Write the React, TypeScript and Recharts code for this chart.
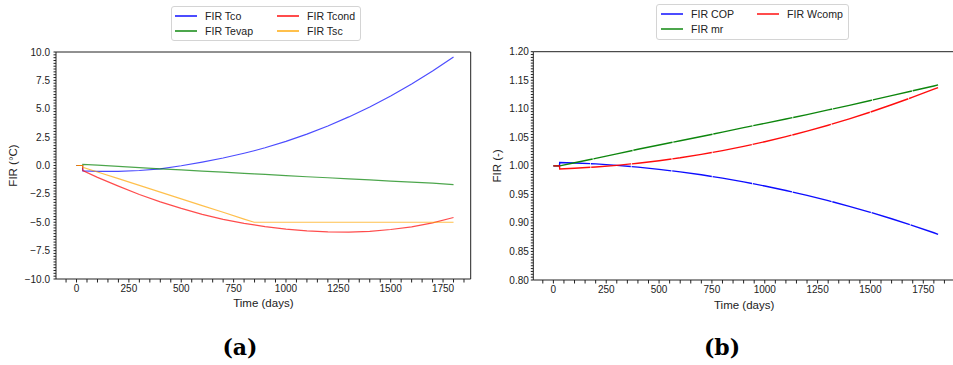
import React from 'react'
import { LineChart, Line, XAxis, YAxis, ReferenceArea } from 'recharts'

// (a) temperatures, days
const timeA = [0, 29, 30, 100, 200, 300, 400, 500, 600, 700, 800, 848, 900, 1000, 1100, 1200, 1300, 1400, 1500, 1600, 1700, 1800]
const firTco = [0, 0, -0.47, -0.51, -0.51, -0.44, -0.29, -0.02, 0.3, 0.66, 1.08, 1.3, 1.56, 2.12, 2.76, 3.48, 4.28, 5.16, 6.12, 7.18, 8.32, 9.55]
const firTevap = [0, 0, 0.1, 0.03, -0.07, -0.18, -0.29, -0.39, -0.49, -0.59, -0.69, -0.74, -0.79, -0.89, -0.99, -1.08, -1.18, -1.27, -1.37, -1.46, -1.56, -1.68]
const firTcond = [0, 0, -0.45, -1.05, -1.82, -2.55, -3.2, -3.78, -4.3, -4.75, -5.1, -5.23, -5.38, -5.6, -5.76, -5.85, -5.87, -5.8, -5.64, -5.4, -5.05, -4.58]
const firTsc = [0, 0, -0.15, -0.57, -1.16, -1.75, -2.34, -2.94, -3.53, -4.12, -4.72, -5, -5, -5, -5, -5, -5, -5, -5, -5, -5, -5]

// (b) ratios
const timeB = [0, 29, 30, 100, 200, 300, 400, 500, 600, 700, 800, 900, 1000, 1100, 1200, 1300, 1400, 1500, 1600, 1700, 1800, 1820]
const firCop = [1, 1, 1.006, 1.0051, 1.0034, 1.0009, 0.9977, 0.9939, 0.9894, 0.9843, 0.9784, 0.9719, 0.9647, 0.9568, 0.9483, 0.939, 0.9291, 0.9186, 0.9073, 0.8954, 0.8828, 0.88]
const firMr = [1, 1, 1, 1.0055, 1.013, 1.021, 1.029, 1.0365, 1.044, 1.0515, 1.059, 1.067, 1.0745, 1.082, 1.0898, 1.098, 1.106, 1.1145, 1.123, 1.1315, 1.14, 1.1418]
const firWcomp = [1, 1, 0.9945, 0.9958, 0.998, 1.0009, 1.0046, 1.009, 1.0141, 1.0201, 1.0267, 1.0341, 1.0423, 1.0512, 1.0608, 1.0712, 1.0824, 1.0943, 1.107, 1.1203, 1.1344, 1.1372]

const xMajor = [0, 250, 500, 750, 1000, 1250, 1500, 1750]
const tempMajor = [-10, -7.5, -5, -2.5, 0, 2.5, 5, 7.5, 10]
const ratioMajor = [0.8, 0.85, 0.9, 0.95, 1.0, 1.05, 1.1, 1.15, 1.2]

const dataA = timeA.map((t, i) => ({ t, tco: firTco[i], tevap: firTevap[i], tcond: firTcond[i], tsc: firTsc[i] }))
const dataB = timeB.map((t, i) => ({ t, cop: firCop[i], mr: firMr[i], wcomp: firWcomp[i] }))

const seriesA = [
  { key: 'tco', name: 'FIR Tco', color: '#0000ff' },
  { key: 'tevap', name: 'FIR Tevap', color: '#008000' },
  { key: 'tcond', name: 'FIR Tcond', color: '#ff0000' },
  { key: 'tsc', name: 'FIR Tsc', color: '#ffa500' },
]
const seriesB = [
  { key: 'cop', name: 'FIR COP', color: '#0000ff' },
  { key: 'mr', name: 'FIR mr', color: '#008000' },
  { key: 'wcomp', name: 'FIR Wcomp', color: '#ff0000' },
]

const domainA: [number, number] = [-98, 1882]
const domainB: [number, number] = [-95, 1900]
const yDomainA: [number, number] = [-10, 10]
const yDomainB: [number, number] = [0.8, 1.2]

function steps(from: number, to: number, step: number) {
  const out: number[] = []
  const n = Math.round((to - from) / step)
  for (let i = 0; i <= n; i++) out.push(+(from + i * step).toFixed(4))
  return out
}

const isIn = (list: number[], v: number) => list.some((m) => Math.abs(m - v) < 1e-6)
const minus = (s: string) => s.replace('-', '\u2212')
const INK = '#222'
const FONT = '"Liberation Sans", Arial, sans-serif'
const tickLineStyle = { stroke: INK, strokeWidth: 1 }
const tickText = { fill: INK, fontSize: 10 }

// minor ticks get an empty label
const fmtX = (v: number) => (isIn(xMajor, v) ? minus(String(v)) : '')
const fmtTemp = (v: number) => (isIn(tempMajor, v) ? minus(v.toFixed(1)) : '')
const fmtRatio = (v: number) => (isIn(ratioMajor, v) ? v.toFixed(2) : '')

const xTicksA = steps(-50, 1850, 50)
const yTicksA = steps(-10, 10, 0.25)
const xTicksB = steps(-50, 1900, 50)
const yTicksB = steps(0.8, 1.2, 0.005)

type Item = { name: string; color: string; col: number; row: number }

function LegendBox({ left, top, width, height, cols, items }: { left: number; top: number; width: number; height: number; cols: number[]; items: Item[] }) {
  return (
    <div
      style={{
        position: 'absolute', left, top, width, height, boxSizing: 'border-box',
        border: '1px solid #d4d4d4', borderRadius: 3, background: 'rgba(255,255,255,0.8)',
      }}
    >
      {items.map((it) => (
        <div key={it.name} style={{ position: 'absolute', left: cols[it.col], top: 9 + it.row * 15 - 7, height: 14, display: 'flex', alignItems: 'center' }}>
          <div style={{ width: 22, height: 1.4, background: it.color, opacity: 0.7 }} />
          <span style={{ marginLeft: 8, fontSize: 10.6, color: INK, whiteSpace: 'nowrap' }}>{it.name}</span>
        </div>
      ))}
    </div>
  )
}

export default function App() {
  return (
    <div style={{ position: 'absolute', left: 0, top: 0, width: 953, height: 365, overflow: 'hidden', background: '#fff', fontFamily: FONT }}>
      <div style={{ position: 'absolute', left: 0, top: 0 }}>
        <LineChart width={490} height={365} data={dataA} margin={{ top: 52, right: 19.3, bottom: 46, left: 0 }}>
          <XAxis
            dataKey="t" type="number" domain={domainA} allowDataOverflow ticks={xTicksA} interval={0}
            tick={tickText} tickFormatter={fmtX} tickLine={tickLineStyle} axisLine={false} tickSize={3.5} tickMargin={2.5} height={40}
            label={{ value: 'Time (days)', position: 'insideBottom', offset: 12, fontSize: 11.5, fill: INK }}
          />
          <YAxis
            type="number" domain={yDomainA} allowDataOverflow ticks={yTicksA} interval={0}
            tick={tickText} tickFormatter={fmtTemp} tickLine={tickLineStyle} axisLine={false} tickSize={2.5} tickMargin={3.5} width={56}
            label={{ value: 'FIR (°C)', angle: -90, position: 'insideLeft', offset: 13, fontSize: 11.5, fill: INK, style: { textAnchor: 'middle' } }}
          />
          <ReferenceArea x1={domainA[0]} x2={domainA[1]} y1={yDomainA[0]} y2={yDomainA[1]} fill="none" stroke={INK} strokeWidth={1} ifOverflow="visible" />
          {seriesA.map((s) => (
            <Line key={s.key} type="linear" dataKey={s.key} name={s.name} stroke={s.color} strokeOpacity={0.7} strokeWidth={1.2} dot={false} isAnimationActive={false} />
          ))}
        </LineChart>
      </div>

      <div style={{ position: 'absolute', left: 480, top: 0 }}>
        <LineChart width={480} height={365} data={dataB} margin={{ top: 51.7, right: 5, bottom: 45, left: 0 }}>
          <XAxis
            dataKey="t" type="number" domain={domainB} allowDataOverflow ticks={xTicksB} interval={0}
            tick={tickText} tickFormatter={fmtX} tickLine={tickLineStyle} axisLine={false} tickSize={3.5} tickMargin={2.5} height={40}
            label={{ value: 'Time (days)', position: 'insideBottom', offset: 11, fontSize: 11.5, fill: INK }}
          />
          <YAxis
            type="number" domain={yDomainB} allowDataOverflow ticks={yTicksB} interval={0}
            tick={tickText} tickFormatter={fmtRatio} tickLine={tickLineStyle} axisLine={false} tickSize={2.5} tickMargin={2} width={53.3}
            label={{ value: 'FIR (-)', angle: -90, position: 'insideLeft', offset: 16.7, fontSize: 11.5, fill: INK, style: { textAnchor: 'middle' } }}
          />
          <ReferenceArea x1={domainB[0]} x2={domainB[1]} y1={yDomainB[0]} y2={yDomainB[1]} fill="none" stroke={INK} strokeWidth={1} ifOverflow="visible" />
          {seriesB.map((s) => (
            <Line key={s.key} type="linear" dataKey={s.key} name={s.name} stroke={s.color} strokeOpacity={0.95} strokeWidth={1.4} strokeDasharray="40 0.8" dot={false} isAnimationActive={false} />
          ))}
        </LineChart>
      </div>

      <LegendBox
        left={170.7} top={6} width={190.3} height={35.3} cols={[3.3, 105.3]}
        items={[
          { name: seriesA[0].name, color: seriesA[0].color, col: 0, row: 0 },
          { name: seriesA[1].name, color: seriesA[1].color, col: 0, row: 1 },
          { name: seriesA[2].name, color: seriesA[2].color, col: 1, row: 0 },
          { name: seriesA[3].name, color: seriesA[3].color, col: 1, row: 1 },
        ]}
      />
      <LegendBox
        left={655.7} top={4} width={193.6} height={36} cols={[4.3, 100.3]}
        items={[
          { name: seriesB[0].name, color: seriesB[0].color, col: 0, row: 0 },
          { name: seriesB[1].name, color: seriesB[1].color, col: 0, row: 1 },
          { name: seriesB[2].name, color: seriesB[2].color, col: 1, row: 0 },
        ]}
      />

      {[{ text: '(a)', x: 240 }, { text: '(b)', x: 722 }].map((c) => (
        <div
          key={c.text}
          style={{
            position: 'absolute', left: c.x - 40, width: 80, top: 334, textAlign: 'center',
            fontFamily: '"DejaVu Serif", serif', fontWeight: 'bold', fontSize: 22, lineHeight: '26px', color: '#000',
          }}
        >
          {c.text}
        </div>
      ))}
    </div>
  )
}
